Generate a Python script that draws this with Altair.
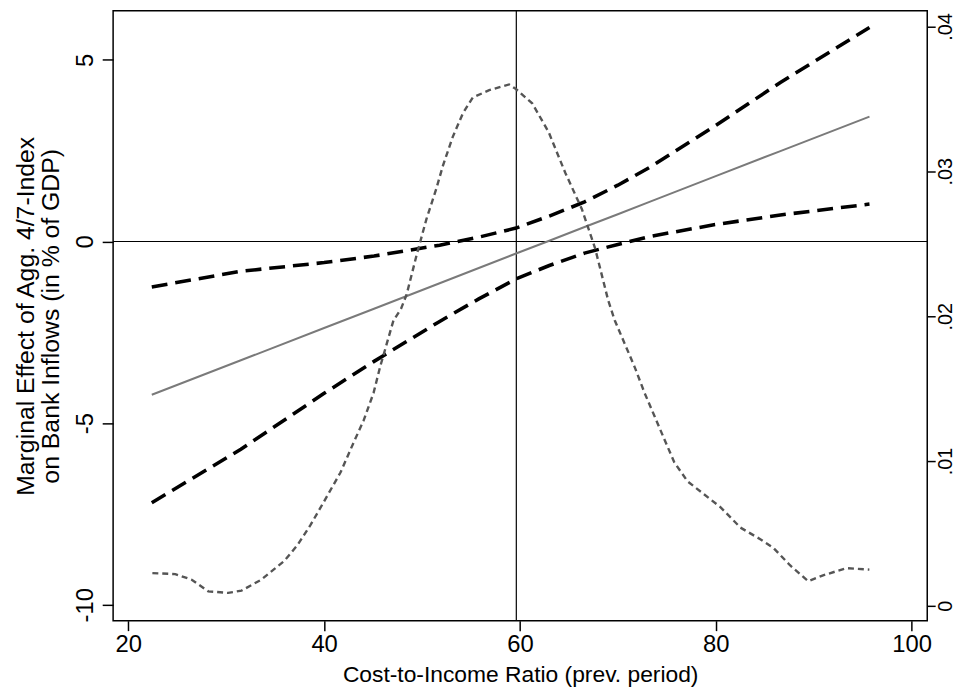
import altair as alt
import pandas as pd

# Marginal effect (left axis) and its 95% CI
ci_x = [22.4, 31.5, 40.0, 45.1, 51.8, 55.8, 59.6, 63.0, 66.6, 70.0, 73.3, 79.8, 86.6, 95.7]
central = [-4.22, -3.27, -2.38, -1.85, -1.15, -0.73, -0.33, 0.02, 0.40, 0.75, 1.10, 1.78, 2.49, 3.44]
upper = [-1.25, -0.82, -0.58, -0.40, -0.10, 0.12, 0.37, 0.70, 1.09, 1.55, 2.05, 3.16, 4.38, 5.89]
lower = [-7.19, -5.72, -4.18, -3.30, -2.20, -1.58, -1.03, -0.66, -0.32, -0.08, 0.14, 0.46, 0.73, 1.03]

# Kernel density of cost-to-income ratio (right axis)
dens_x = [22.46, 24.80, 26.48, 28.17, 30.20, 31.57, 33.57, 35.94, 37.29, 38.63, 39.99, 41.67,
          43.03, 44.04, 45.05, 45.72, 46.40, 47.08, 47.85, 48.43, 49.44, 50.45, 51.46, 52.14,
          53.15, 54.17, 55.18, 56.86, 58.89, 59.56, 61.25, 62.94, 64.63, 66.32, 67.67, 69.01,
          69.69, 70.70, 71.71, 72.73, 73.74, 74.75, 75.77, 77.11, 78.80, 80.50, 82.52, 84.55,
          85.89, 87.58, 89.44, 90.96, 93.32, 95.69]
dens_y = [0.00226, 0.00219, 0.0018, 0.0010, 0.00089, 0.00105, 0.0018, 0.0031, 0.0042, 0.0056,
          0.0072, 0.0092, 0.0113, 0.0128, 0.0147, 0.0165, 0.0181, 0.0197, 0.0205, 0.0215,
          0.0242, 0.0267, 0.0288, 0.0304, 0.0324, 0.0340, 0.0351, 0.0356, 0.0360, 0.0357,
          0.0347, 0.0327, 0.0299, 0.0274, 0.0247, 0.0211, 0.0197, 0.0181, 0.0165, 0.0147,
          0.0131, 0.0115, 0.0099, 0.0086, 0.0077, 0.0068, 0.0054, 0.0046, 0.0040, 0.0028,
          0.0017, 0.0021, 0.0026, 0.0025]

x_mean = [59.63]
y_zero = [0]

left_ticks = [-10, -5, 0, 5]
right_ticks = [0, 0.01, 0.02, 0.03, 0.04]
x_ticks = [20, 40, 60, 80, 100]

x_title = "Cost-to-Income Ratio (prev. period)"
y_title = ["Marginal Effect of Agg. 4/7-Index", "on Bank Inflows (in % of GDP)"]

FONT = "Liberation Sans"

df_ci = pd.DataFrame({"x": ci_x, "central": central, "upper": upper, "lower": lower})
df_d = pd.DataFrame({"x": dens_x, "d": dens_y})
df_v = pd.DataFrame({"x": x_mean})
df_h = pd.DataFrame({"y": y_zero})

xscale = alt.Scale(domain=[18.45, 101.6], nice=False, zero=False)
yscale = alt.Scale(domain=[-10.44, 6.35], nice=False, zero=False)
rscale = alt.Scale(domain=[-0.00103, 0.04108], nice=False, zero=False)

x_axis = alt.Axis(values=x_ticks, title=x_title, grid=False, domain=False,
                  tickSize=10, tickWidth=1.5, tickColor="black",
                  labelFontSize=24, labelFont=FONT, labelColor="black", labelPadding=2,
                  titleFontSize=23, titleFont=FONT, titleColor="black", titleFontWeight="normal",
                  titleY=61, titleBaseline="alphabetic")

left_axis = alt.Axis(values=left_ticks, title=y_title, grid=False, domain=False,
                     tickSize=11, tickWidth=1.5, tickColor="black",
                     labelFontSize=24, labelFont=FONT, labelColor="black",
                     labelAngle=-90, labelAlign="center", labelBaseline="alphabetic", labelPadding=10,
                     labelExpr="datum.value < 0 ? '-' + abs(datum.value) : '' + datum.value",
                     titleFontSize=25, titleFont=FONT, titleColor="black", titleFontWeight="normal",
                     titleAngle=-90, titleAlign="center", titleBaseline="top",
                     titleX=-100, titleY=307.5, titleLineHeight=25)

right_axis = alt.Axis(values=right_ticks, title=None, grid=False, domain=False, orient="right",
                      tickSize=8, tickWidth=1.5, tickColor="black",
                      labelFontSize=20, labelFont=FONT, labelColor="black",
                      labelAngle=-90, labelAlign="center", labelBaseline="top", labelPadding=0,
                      labelExpr="datum.value == 0 ? '0' : replace(format(datum.value, '.2f'), '0.', '.')")

base = alt.Chart(df_ci)

hline = alt.Chart(df_h).mark_rule(color="black", strokeWidth=1.2).encode(
    y=alt.Y("y:Q", scale=yscale, axis=left_axis)
)
vline = alt.Chart(df_v).mark_rule(color="black", strokeWidth=1.2).encode(
    x=alt.X("x:Q", scale=xscale, axis=x_axis)
)
up_line = base.mark_line(color="black", strokeWidth=3.6, strokeDash=[16, 8]).encode(
    x=alt.X("x:Q", scale=xscale, axis=x_axis),
    y=alt.Y("upper:Q", scale=yscale, axis=left_axis),
)
lo_line = base.mark_line(color="black", strokeWidth=3.6, strokeDash=[16, 8]).encode(
    x=alt.X("x:Q", scale=xscale, axis=x_axis),
    y=alt.Y("lower:Q", scale=yscale, axis=left_axis),
)
mid_line = base.mark_line(color="#7a7a7a", strokeWidth=2).encode(
    x=alt.X("x:Q", scale=xscale, axis=x_axis),
    y=alt.Y("central:Q", scale=yscale, axis=left_axis),
)

left_group = alt.layer(hline, vline, up_line, lo_line, mid_line)

dens = alt.Chart(df_d).mark_line(color="#555555", strokeWidth=2.4, strokeDash=[6, 4]).encode(
    x=alt.X("x:Q", scale=xscale, axis=x_axis),
    y=alt.Y("d:Q", scale=rscale, axis=right_axis),
)

chart = alt.layer(left_group, dens).resolve_scale(y="independent").properties(
    width=821, height=615,
    padding={"left": 106, "top": 0, "right": 29, "bottom": 69},
    autosize=alt.AutoSizeParams(type="none"),
    background="white",
).configure_view(stroke="black", strokeWidth=1.5)

chart.save("out.html", embed_options={"renderer": "svg", "actions": False})
